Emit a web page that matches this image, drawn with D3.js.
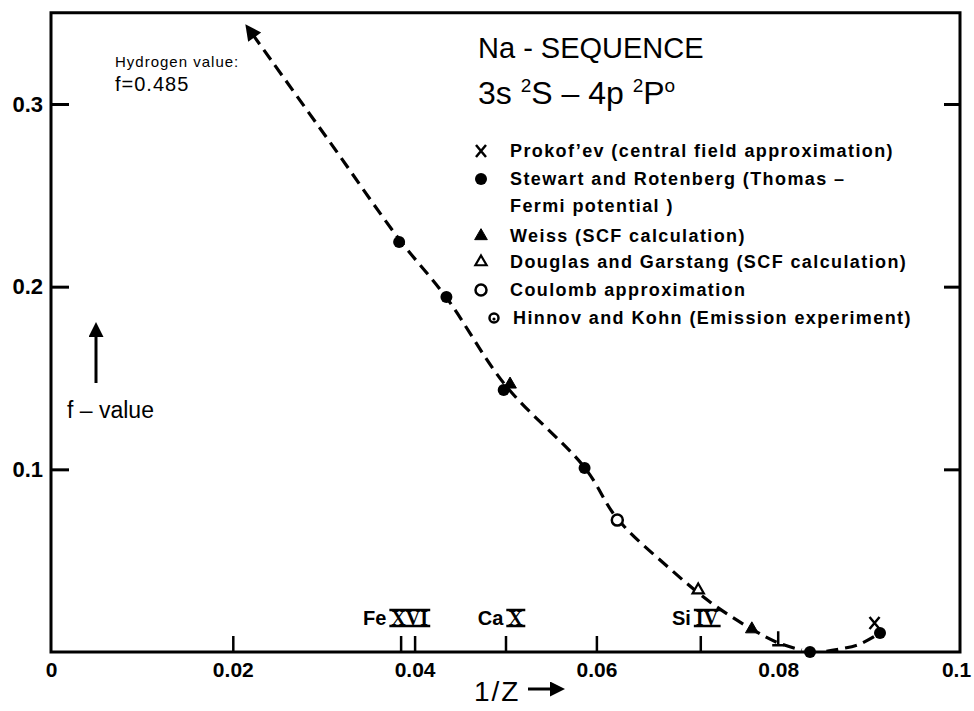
<!DOCTYPE html>
<html>
<head>
<meta charset="utf-8">
<script src="https://cdn.jsdelivr.net/npm/d3@7"></script>
<style>
  body { margin: 0; background: #fff; }
  svg { font-family: "Liberation Sans", Arial, sans-serif; }
</style>
</head>
<body>
<svg id="chart" width="974" height="711"></svg>
<script>
// values (x = 1/Z, f = f-value)
var xTickLabels = [0, 0.02, 0.04, 0.06, 0.08, 0.1];
var xTickMarks = [0.02, 0.04, 0.06];
var yTickValues = [0.1, 0.2, 0.3];

var ionNames = ["Fe", "Ca", "Si"];
var ionStages = ["XVI", "X", "IV"];
var ionX = [1 / 26, 1 / 20, 1 / 14];

// dashed fit curve, main branch and small branch past the zero
var curveA_x = [0.0222, 0.0307, 0.0383, 0.0435, 0.0500, 0.0587, 0.0623, 0.0680, 0.0726, 0.0771, 0.0800, 0.0826];
var curveA_f = [0.338, 0.279, 0.226, 0.194, 0.146, 0.101, 0.073, 0.046, 0.027, 0.0125, 0.005, 0.001];
var curveB_x = [0.0853, 0.0888, 0.0912];
var curveB_f = [0.0004, 0.004, 0.0104];

// the data points per source
var stewart_x = [0.0383, 0.0435, 0.0498, 0.0587, 0.0835, 0.0912];
var stewart_f = [0.2244, 0.1943, 0.1434, 0.1007, 0.0, 0.0104];
var weiss_x = [0.0505, 0.0771];
var weiss_f = [0.1465, 0.0125];
var douglas_x = [0.0712];
var douglas_f = [0.0339];
var coulomb_x = [0.0623];
var coulomb_f = [0.0722];
var prokofev_x = [0.0906];
var prokofev_f = [0.0159];
var hinnov_x = [0.0800];
var hinnov_f = [0.0065];

var legendSymbols = ["x", "dot", "", "tri", "otri", "circ", "hk"];
var legendLabels = [
  "Prokof\u2019ev (central field approximation)",
  "Stewart and Rotenberg (Thomas \u2013",
  "Fermi potential )",
  "Weiss (SCF calculation)",
  "Douglas and Garstang (SCF calculation)",
  "Coulomb approximation",
  "Hinnov and Kohn (Emission experiment)"
];

var svg = d3.select("#chart");
var x = d3.scaleLinear().domain([0, 0.1]).range([51, 960]);
var y = d3.scaleLinear().domain([0, 0.3]).range([652, 104]);

// frame
var x0 = x(0), x1 = x(0.1), yb = y(0), yt = y(0.35);
svg.append("path")
  .attr("d", "M" + x0 + "," + yt + "H" + x1 + "V" + yb + "H" + x0 + "Z")
  .attr("fill", "none").attr("stroke", "#000").attr("stroke-width", 3);

// y axes, ticks pointing inward
var yaxL = svg.append("g").attr("transform", "translate(" + x0 + ",0)")
  .call(d3.axisLeft(y).tickValues(yTickValues).tickSize(-18).tickPadding(8)
    .tickFormat(function(d){ return String(d); }));
var yaxR = svg.append("g").attr("transform", "translate(" + x1 + ",0)")
  .call(d3.axisRight(y).tickValues(yTickValues).tickSize(-16).tickFormat(""));
[yaxL, yaxR].forEach(function(a){
  a.select(".domain").remove();
  a.selectAll("line").attr("stroke-width", 3);
});
yaxL.selectAll("text").style("font-size", "22px").style("font-weight", "bold").attr("fill", "#000");

// x axis labels and tick marks
var xlab = svg.append("g").attr("transform", "translate(0," + yb + ")")
  .call(d3.axisBottom(x).tickValues(xTickLabels).tickSize(0).tickPadding(10)
    .tickFormat(function(d){ return String(d); }));
xlab.select(".domain").remove();
xlab.selectAll("text").style("font-size", "21px").style("font-weight", "bold").attr("fill", "#000")
  .attr("dx", function(d){ return d == 0.1 ? -4 : 0; });

var xmk = svg.append("g").attr("transform", "translate(0," + yb + ")")
  .call(d3.axisBottom(x).tickValues(xTickMarks.concat(ionX)).tickSize(-16).tickFormat(""));
xmk.select(".domain").remove();
xmk.selectAll("line").attr("stroke-width", 2.5);

// ion labels above the axis, centred on their tick
ionX.forEach(function(v, i) {
  var g = svg.append("g");
  var name = g.append("text").attr("x", 0)
    .style("font-size", "20px").style("font-weight", "bold").text(ionNames[i]);
  var nw = name.node().getComputedTextLength();
  var st = g.append("text").attr("x", nw + 5)
    .style("font-size", "20px").style("font-weight", "bold")
    .style("font-family", "'Liberation Serif', serif").text(ionStages[i]);
  var bb = st.node().getBBox();
  g.append("line").attr("x1", bb.x - 2).attr("x2", bb.x + bb.width + 2)
    .attr("y1", -15).attr("y2", -15).attr("stroke", "#000").attr("stroke-width", 2.5);
  g.append("line").attr("x1", bb.x - 2).attr("x2", bb.x + bb.width + 2)
    .attr("y1", 1).attr("y2", 1).attr("stroke", "#000").attr("stroke-width", 2.5);
  var total = bb.x + bb.width + 2;
  g.attr("transform", "translate(" + (x(v) - total / 2 - 4) + "," + (yb - 27) + ")");
});

// arrowhead marker
var defs = svg.append("defs");
defs.append("marker").attr("id", "head")
  .attr("viewBox", "0 0 10 10").attr("refX", 2).attr("refY", 5)
  .attr("markerWidth", 6).attr("markerHeight", 5)
  .attr("orient", "auto-start-reverse").attr("markerUnits", "strokeWidth")
  .append("path").attr("d", "M0,0L10,5L0,10Z").attr("fill", "#000");

// dashed fit curve
var line = d3.line().x(function(d){ return x(d[0]); }).y(function(d){ return y(d[1]); })
  .curve(d3.curveCatmullRom.alpha(0.5));
svg.append("path").datum(d3.zip(curveA_x, curveA_f)).attr("d", line)
  .attr("fill", "none").attr("stroke", "#000").attr("stroke-width", 3.2)
  .attr("stroke-dasharray", "12,7").attr("marker-start", "url(#head)");
svg.append("path").datum(d3.zip(curveB_x, curveB_f)).attr("d", line)
  .attr("fill", "none").attr("stroke", "#000").attr("stroke-width", 3.2)
  .attr("stroke-dasharray", "12,7");

// symbols
function drawSymbol(g, type, cx, cy) {
  if (type == "dot") {
    g.append("circle").attr("cx", cx).attr("cy", cy).attr("r", 6).attr("fill", "#000");
  } else if (type == "circ") {
    g.append("circle").attr("cx", cx).attr("cy", cy).attr("r", 5.5)
      .attr("fill", "#fff").attr("stroke", "#000").attr("stroke-width", 2.5);
  } else if (type == "tri" || type == "otri") {
    g.append("path").attr("d", d3.symbol(d3.symbolTriangle, type == "tri" ? 70 : 55)())
      .attr("transform", "translate(" + cx + "," + cy + ")")
      .attr("fill", type == "tri" ? "#000" : "#fff")
      .attr("stroke", "#000").attr("stroke-width", type == "tri" ? 1 : 2.2);
  } else if (type == "x") {
    g.append("path").attr("d", "M-5,-6L5,6M5,-6L-5,6")
      .attr("transform", "translate(" + cx + "," + cy + ")")
      .attr("stroke", "#000").attr("stroke-width", 2.5);
  } else if (type == "hk") {
    g.append("circle").attr("cx", cx).attr("cy", cy).attr("r", 4.5)
      .attr("fill", "#fff").attr("stroke", "#000").attr("stroke-width", 2.5);
    g.append("circle").attr("cx", cx).attr("cy", cy + 1).attr("r", 1.6).attr("fill", "#000");
  } else if (type == "bar") {
    g.append("path").attr("d", "M0,-9V5M-6,5H6")
      .attr("transform", "translate(" + cx + "," + cy + ")")
      .attr("stroke", "#000").attr("stroke-width", 2.5).attr("fill", "none");
  }
}

var marks = svg.append("g");
d3.zip(stewart_x, stewart_f).forEach(function(p){ drawSymbol(marks, "dot", x(p[0]), y(p[1])); });
d3.zip(weiss_x, weiss_f).forEach(function(p){ drawSymbol(marks, "tri", x(p[0]), y(p[1])); });
d3.zip(douglas_x, douglas_f).forEach(function(p){ drawSymbol(marks, "otri", x(p[0]), y(p[1])); });
d3.zip(coulomb_x, coulomb_f).forEach(function(p){ drawSymbol(marks, "circ", x(p[0]), y(p[1])); });
d3.zip(prokofev_x, prokofev_f).forEach(function(p){ drawSymbol(marks, "x", x(p[0]), y(p[1])); });
d3.zip(hinnov_x, hinnov_f).forEach(function(p){ drawSymbol(marks, "bar", x(p[0]), y(p[1])); });

// title
var title = svg.append("g").attr("transform", "translate(478,0)");
title.append("text").attr("y", 58).style("font-size", "29px").text("Na - SEQUENCE");
var t2 = title.append("text").attr("y", 104).style("font-size", "32px");
t2.append("tspan").text("3s ");
t2.append("tspan").attr("dy", -12).style("font-size", "19px").text("2");
t2.append("tspan").attr("dy", 12).text("S \u2013 4p ");
t2.append("tspan").attr("dy", -12).style("font-size", "19px").text("2");
t2.append("tspan").attr("dy", 12).text("P");
t2.append("tspan").attr("dy", -12).style("font-size", "19px").text("o");

// legend
var legY = [157, 185, 212, 242, 268, 296, 324];
var leg = svg.append("g");
legendLabels.forEach(function(lbl, i) {
  var sx = legendSymbols[i] == "hk" ? 494 : 481;
  if (legendSymbols[i] != "") drawSymbol(leg, legendSymbols[i], sx, legY[i] - 6);
  leg.append("text").attr("x", legendSymbols[i] == "hk" ? 513 : 510).attr("y", legY[i])
    .style("font-size", "18px").style("font-weight", "bold").style("letter-spacing", "1.4px")
    .text(lbl);
});

// hydrogen note
svg.append("text").attr("x", 115).attr("y", 67).style("font-size", "15px")
  .style("letter-spacing", "1px").text("Hydrogen value:");
svg.append("text").attr("x", 115).attr("y", 91).style("font-size", "20px")
  .style("letter-spacing", "1px").text("f=0.485");

// y axis title with arrow
svg.append("line").attr("x1", 96).attr("y1", 383).attr("x2", 96).attr("y2", 334)
  .attr("stroke", "#000").attr("stroke-width", 3).attr("marker-end", "url(#head)");
svg.append("text").attr("x", 67).attr("y", 418).style("font-size", "23px").text("f \u2013 value");

// x axis title with arrow
svg.append("text").attr("x", 474).attr("y", 701).style("font-size", "28px")
  .style("letter-spacing", "2px").text("1/Z");
svg.append("line").attr("x1", 528).attr("y1", 689).attr("x2", 553).attr("y2", 689)
  .attr("stroke", "#000").attr("stroke-width", 3).attr("marker-end", "url(#head)");
</script>
</body>
</html>
